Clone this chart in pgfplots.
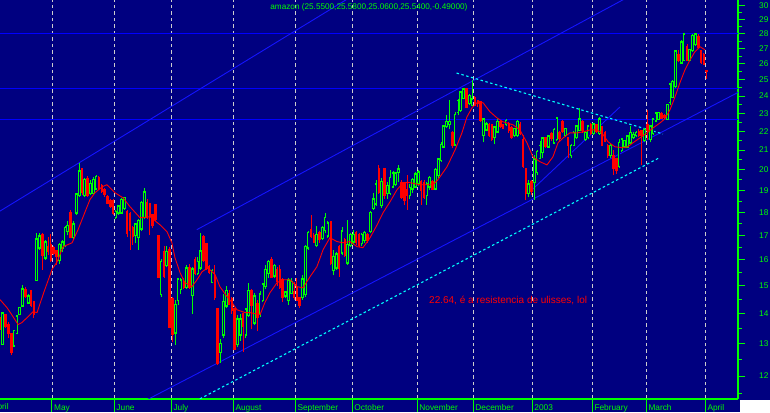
\documentclass[border=0pt]{standalone}
\usepackage{pgfplots}
\usepackage{pgfplotstable}
\pgfplotsset{compat=1.18}
\usepackage{fontspec}
\setmainfont{Liberation Sans}
\definecolor{bg}{RGB}{0,0,128}
\definecolor{hl}{RGB}{0,0,255}
\definecolor{tl}{RGB}{20,20,255}
\definecolor{cy}{RGB}{0,255,255}
\definecolor{gr}{RGB}{0,255,0}
\definecolor{rd}{RGB}{255,0,0}
\definecolor{gd}{RGB}{205,205,205}

\pgfplotstableread{
x o h l c
0 13.73 13.90 13.45 13.52
1 13.00 14.05 12.95 14.00
2 13.95 14.00 13.50 13.60
3 13.60 13.70 13.20 13.35
4 13.30 13.35 12.63 12.75
5 12.95 13.45 12.90 13.40
6 13.35 13.97 13.30 13.90
7 14.00 14.25 13.95 14.20
8 14.30 15.04 14.25 14.86
9 14.85 14.95 14.55 14.65
10 14.40 14.70 14.35 14.60
11 14.80 14.85 14.25 14.32
12 14.40 14.45 13.85 14.00
13 15.23 17.10 15.20 16.82
14 16.50 17.10 16.40 16.95
15 17.02 17.10 15.62 16.20
16 16.10 16.80 16.00 16.70
17 16.50 16.95 16.20 16.35
18 16.60 17.05 15.90 16.00
19 16.45 16.55 16.20 16.30
20 16.35 16.40 15.80 16.15
21 16.00 16.70 15.85 16.60
22 16.50 16.80 16.30 16.70
23 16.60 17.40 16.50 17.30
24 17.20 17.60 17.00 17.40
25 17.95 18.10 16.90 16.95
26 16.95 17.60 16.80 17.45
27 18.00 18.90 17.90 18.80
28 18.80 20.35 18.70 19.90
29 20.00 20.10 18.80 18.95
30 18.80 19.60 18.70 19.50
31 19.55 19.70 18.70 18.80
32 18.90 19.50 18.80 19.30
33 18.90 19.65 18.85 19.50
34 19.10 19.75 19.00 19.65
35 19.60 19.70 19.00 19.15
36 19.20 19.30 18.90 19.00
37 19.00 19.10 18.70 18.85
38 18.70 18.80 18.40 18.45
39 18.50 18.60 18.20 18.30
40 18.50 18.60 17.90 18.00
41 17.80 18.10 17.70 18.00
42 18.00 18.30 17.90 18.25
43 18.00 18.65 17.95 18.55
44 18.20 18.70 18.10 18.65
45 18.00 18.10 16.92 17.10
46 17.90 18.00 16.41 17.24
47 17.30 17.40 16.60 17.00
48 17.02 17.50 16.70 17.45
49 16.95 17.70 16.40 17.60
50 17.30 18.50 17.20 18.40
51 17.80 19.10 17.70 18.90
52 18.40 18.60 17.70 17.80
53 18.34 18.40 17.00 17.85
54 17.85 17.90 17.30 17.45
55 18.30 18.35 17.60 17.70
56 16.95 17.00 15.30 15.35
57 14.72 16.05 14.60 15.90
58 16.30 16.55 15.30 15.40
59 15.80 16.55 15.70 16.30
60 16.40 16.50 13.50 13.55
61 14.50 14.60 13.05 13.33
62 13.37 14.50 12.95 14.30
63 14.50 15.30 14.30 15.23
64 14.90 15.30 14.70 15.20
65 15.15 15.30 14.90 14.97
66 14.97 15.80 14.90 15.66
67 15.66 15.85 14.90 14.97
68 14.68 15.70 14.00 15.62
69 16.00 16.10 15.40 15.50
70 15.50 16.10 15.40 15.90
71 15.70 17.10 15.60 16.33
72 16.92 17.00 15.90 16.00
73 16.61 16.70 15.60 15.70
74 15.70 15.80 15.45 15.55
75 15.15 15.65 15.10 15.55
76 15.35 15.80 14.50 14.60
77 14.14 14.20 12.33 12.40
78 12.75 13.14 12.40 12.98
79 13.30 14.70 13.20 14.40
80 14.30 15.00 14.20 14.80
81 14.70 14.85 14.30 14.35
82 14.50 14.60 14.00 14.14
83 14.14 14.20 12.82 12.85
84 13.00 13.97 12.90 13.80
85 13.30 14.00 13.10 13.80
86 13.97 14.00 12.75 13.60
87 13.30 14.20 13.20 14.14
88 13.97 15.10 13.90 14.80
89 14.80 14.90 13.47 14.30
90 13.70 14.75 13.60 14.60
91 14.32 14.50 13.40 13.90
92 14.00 14.80 13.90 14.68
93 14.50 15.10 14.40 15.04
94 15.00 15.80 14.90 15.60
95 15.50 16.00 15.30 15.90
96 16.00 16.10 15.30 15.35
97 15.40 15.85 15.30 15.75
98 15.60 15.70 15.00 15.20
99 15.60 15.80 14.90 14.98
100 15.20 15.30 14.40 14.60
101 14.65 14.80 14.55 14.75
102 14.50 15.30 14.30 15.20
103 14.75 15.30 14.70 15.15
104 14.75 15.15 14.50 14.60
105 14.90 15.30 14.45 14.50
106 14.55 14.60 14.20 14.30
107 14.60 15.40 14.50 15.23
108 14.70 16.60 14.60 16.50
109 16.50 17.20 16.40 17.10
110 17.20 17.90 16.90 17.00
111 16.95 17.10 16.70 16.75
112 16.60 17.40 16.50 17.00
113 17.10 17.20 16.70 16.85
114 16.90 17.40 16.80 17.30
115 17.24 17.96 17.10 17.75
116 17.00 17.60 16.90 17.50
117 17.55 17.60 15.80 15.90
118 15.60 16.40 15.40 16.10
119 15.70 16.30 15.60 16.20
120 16.50 16.60 15.35 15.70
121 16.30 17.35 16.20 17.15
122 16.80 16.90 16.10 16.20
123 15.90 17.67 15.80 16.60
124 16.60 17.10 16.50 17.00
125 16.75 17.24 16.60 17.02
126 17.10 17.20 16.60 16.75
127 17.02 17.10 16.50 16.61
128 16.70 17.10 16.55 17.00
129 16.80 17.20 16.70 17.10
130 17.00 17.10 16.70 16.82
131 17.20 18.05 17.10 17.95
132 18.20 18.90 18.10 18.57
133 18.40 19.50 18.30 19.27
134 20.00 20.24 18.85 18.95
135 18.34 19.60 18.20 19.40
136 20.00 20.10 18.60 18.80
137 18.90 19.40 18.60 19.20
138 18.90 20.00 18.80 19.60
139 19.20 19.95 19.10 19.80
140 19.30 19.90 19.20 19.80
141 19.90 20.24 19.40 20.00
142 19.35 19.50 18.60 18.70
143 19.27 19.40 18.34 18.57
144 19.00 19.75 18.11 18.80
145 18.80 19.30 18.60 19.10
146 19.10 19.60 18.90 19.50
147 19.20 19.90 19.10 19.75
148 19.35 20.00 19.20 19.85
149 19.40 19.50 18.34 19.03
150 19.35 19.50 18.60 18.70
151 18.80 19.40 18.34 19.27
152 19.20 19.70 19.00 19.60
153 19.40 19.50 19.00 19.10
154 19.10 20.10 19.00 19.99
155 19.75 20.60 19.60 20.50
156 20.50 21.40 20.40 21.27
157 21.20 22.35 21.10 22.25
158 22.30 22.90 22.20 22.50
159 22.40 23.75 22.10 22.50
160 21.90 22.00 21.10 21.27
161 21.30 23.10 21.20 22.90
162 23.10 23.80 22.90 23.70
163 23.20 24.30 23.10 24.20
164 23.90 24.50 23.80 24.38
165 24.38 24.45 23.30 23.40
166 23.60 24.10 23.50 24.00
167 23.50 25.00 23.40 23.78
168 23.90 24.00 23.40 23.50
169 23.70 23.75 23.35 23.60
170 23.65 23.70 22.50 22.63
171 21.80 22.70 21.40 22.63
172 22.10 22.50 22.00 22.35
173 22.35 22.45 21.70 21.80
174 22.30 22.40 21.50 21.60
175 21.70 22.30 21.30 22.20
176 22.00 22.65 21.90 22.50
177 22.50 22.60 22.20 22.30
178 22.30 22.40 22.10 22.20
179 22.40 22.65 22.30 22.55
180 22.40 22.50 21.90 22.10
181 22.15 22.30 21.60 21.70
182 21.80 22.20 21.70 22.10
183 21.80 22.60 21.70 22.50
184 22.30 22.50 21.80 21.90
185 21.54 21.80 20.10 20.20
186 20.00 20.10 18.57 18.90
187 18.90 19.50 18.70 19.27
188 19.40 19.50 18.80 19.00
189 19.40 20.75 18.57 20.50
190 19.90 21.00 19.75 20.90
191 20.60 21.50 20.60 21.20
192 20.90 21.70 20.60 21.60
193 21.60 21.70 21.10 21.20
194 21.20 21.80 21.10 21.70
195 21.85 21.95 21.50 21.65
196 21.40 22.20 21.30 22.07
197 21.60 22.75 21.50 22.70
198 21.90 22.00 21.50 21.65
199 22.50 22.60 21.90 22.00
200 21.80 22.20 21.70 22.10
201 21.60 21.70 20.60 21.25
202 20.75 21.30 20.60 21.20
203 21.27 22.00 21.20 21.90
204 21.70 22.35 21.60 22.25
205 22.07 23.30 22.00 22.63
206 22.50 22.60 21.90 22.07
207 21.60 22.00 21.50 21.90
208 21.70 22.35 21.60 22.25
209 22.35 22.45 21.80 21.90
210 21.90 22.45 21.80 22.35
211 22.30 22.40 21.90 22.00
212 21.90 22.80 21.80 22.63
213 22.20 22.30 21.20 21.27
214 21.90 22.00 21.40 21.50
215 21.20 21.30 20.60 20.75
216 20.75 21.30 20.60 21.20
217 20.70 21.00 19.75 20.10
218 20.50 20.60 19.80 20.00
219 20.20 21.60 20.10 21.35
220 21.00 21.65 20.90 21.54
221 21.20 21.55 21.10 21.45
222 21.20 21.80 21.10 21.70
223 21.40 22.30 21.30 21.90
224 21.70 21.95 21.60 21.80
225 21.80 22.00 21.70 21.90
226 21.95 22.10 21.70 21.80
227 22.00 22.07 20.24 21.80
228 21.54 22.20 21.40 22.07
229 22.30 23.20 21.54 22.10
230 21.60 22.35 21.40 22.25
231 21.90 22.70 21.80 22.63
232 22.60 23.05 22.50 22.97
233 22.70 23.10 22.60 23.00
234 22.97 23.05 22.65 22.75
235 22.85 22.95 22.70 22.80
236 22.70 23.55 22.60 23.45
237 23.66 24.80 23.50 24.68
238 23.95 25.00 23.90 24.85
239 24.60 26.90 24.50 26.80
240 26.58 26.90 26.10 26.25
241 26.10 27.60 26.00 27.40
242 26.25 28.00 26.20 27.93
243 27.10 27.30 26.20 26.25
244 26.25 27.00 26.15 26.90
245 26.90 28.00 26.80 27.86
246 27.30 28.00 27.20 27.93
247 27.73 28.00 27.00 27.10
248 26.80 26.90 26.00 26.10
249 26.58 26.70 25.95 26.03
250 25.55 25.58 25.06 25.54
}\ohlc

\pgfplotstableread{
x ma
0.0 14.50
2.5 14.21
4.6 13.90
6.4 13.63
7.8 13.70
9.6 13.87
11.7 14.07
13.1 14.04
15.6 14.79
18.4 15.62
20.2 15.92
22.3 16.53
25.5 16.69
27.6 17.24
30.1 18.02
31.8 18.57
33.6 18.89
36.1 19.17
37.8 19.27
40.7 18.89
43.5 18.66
46.0 18.25
49.5 17.76
53.1 17.80
56.6 17.45
59.1 17.15
60.8 16.69
61.9 16.08
63.7 15.50
65.4 15.12
67.9 14.97
69.7 15.23
71.5 15.54
73.6 15.69
76.1 15.42
77.8 14.97
80.3 14.61
82.1 14.39
83.8 14.14
86.7 14.04
88.4 14.04
92.0 13.97
93.7 14.39
95.5 14.75
98.0 15.12
100.1 15.23
102.6 15.23
105.1 14.97
107.2 14.93
109.7 15.35
112.1 15.73
114.3 16.41
116.7 16.90
119.2 16.74
121.3 16.69
123.8 16.74
126.3 16.53
128.4 16.49
130.9 16.90
133.4 17.45
135.5 17.98
138.0 18.48
140.4 19.03
142.6 19.37
145.0 19.37
148.6 19.27
153.2 19.27
154.9 19.51
158.1 20.14
161.0 21.01
163.4 21.91
165.2 22.80
167.0 23.32
169.1 23.66
170.9 23.60
173.3 23.09
175.8 22.74
177.9 22.52
181.5 22.35
183.9 22.07
186.4 21.38
188.5 20.65
191.0 20.40
193.5 20.24
195.6 20.65
197.4 21.38
199.2 21.64
201.6 21.91
204.1 21.91
206.2 21.96
208.7 22.07
211.2 22.07
212.9 21.91
215.1 21.43
217.5 21.17
220.0 21.12
222.1 21.17
223.9 21.38
226.4 21.64
228.9 21.91
231.0 22.18
233.5 22.46
235.2 22.69
237.0 23.20
238.8 23.96
240.5 24.80
242.3 25.61
244.1 26.25
245.8 26.78
247.6 27.12
249.4 26.91
}\mavg

% build segment lists (separated by nan) from the OHLC table
\pgfplotstablegetrowsof{\ohlc}
\pgfmathtruncatemacro{\nlast}{\pgfplotsretval-1}
\gdef\gwick{}\gdef\gbody{}\gdef\rwick{}\gdef\rbody{}
\pgfplotsforeachungrouped \r in {0,...,\nlast}{%
  \pgfplotstablegetelem{\r}{x}\of\ohlc \let\cx\pgfplotsretval
  \pgfplotstablegetelem{\r}{o}\of\ohlc \let\co\pgfplotsretval
  \pgfplotstablegetelem{\r}{h}\of\ohlc \let\ch\pgfplotsretval
  \pgfplotstablegetelem{\r}{l}\of\ohlc \let\cl\pgfplotsretval
  \pgfplotstablegetelem{\r}{c}\of\ohlc \let\cc\pgfplotsretval
  \pgfmathtruncatemacro{\up}{\cc>=\co}%
  \ifnum\up=1
    \xdef\gwick{\gwick (\cx,\cl) (\cx,\ch) (\cx,nan)}%
    \xdef\gbody{\gbody (\cx,\co) (\cx,\cc) (\cx,nan)}%
  \else
    \xdef\rwick{\rwick (\cx,\cl) (\cx,\ch) (\cx,nan)}%
    \xdef\rbody{\rbody (\cx,\co) (\cx,\cc) (\cx,nan)}%
  \fi
}

\begin{document}
\begin{tikzpicture}[x=1pt,y=1pt]
\useasboundingbox (0,-13) rectangle (770,399);
\fill[bg] (0,-13) rectangle (770,399);
\fill[white] (739.5,-13) rectangle (770,-1);
\begin{axis}[
  name=ax,
  at={(0,0)}, anchor=south west,
  scale only axis, width=738pt, height=399pt,
  xmin=0, xmax=261.06,
  ymode=log, ymin=11.336, ymax=30.449,
  axis x line*=bottom, axis y line*=right,
  axis line style={gr, line width=1.6pt},
  tick align=outside,
  major tick length=7pt, minor tick length=3.5pt,
  every tick/.style={gr, line width=1pt},
  xtick=\empty,
  extra x ticks={18.39,40.43,60.6,82.53,104.46,124.62,147.61,167.42,188.29,209.52,228.62,249.49},
  extra x tick labels={May,June,July,August,September,October,November,December,2003,February,March,April},
  extra x tick style={major tick length=13pt},
  minor xtick={1.5,6.5,...,261.5},
  ytick={12,13,14,15,16,17,18,19,20,21,22,23,24,25,26,27,28,29,30},
  yticklabels={12,13,14,15,16,17,18,19,20,21,22,23,24,25,26,27,28,29,30},
  minor ytick={11.5,12.5,13.5,14.5,15.5,16.5,17.5,18.5,19.5,20.5,21.5,22.5,23.5,24.5,25.5,26.5,27.5,28.5,29.5,30.5},
  xticklabel style={anchor=north west, inner sep=0pt, xshift=2pt, yshift=7.5pt, text=gr, font=\fontsize{8.3}{9}\selectfont},
  yticklabel style={anchor=west, inner sep=0pt, xshift=14pt, text=gr, font=\fontsize{8.3}{9}\selectfont},
  unbounded coords=jump,
]
% month separators
\pgfplotsinvokeforeach{18.39,40.43,60.6,82.53,104.46,124.62,147.61,167.42,188.29,209.52,228.62,249.49}{
  \addplot[gd, line width=0.9pt, dash pattern=on 3.5pt off 3pt] coordinates {(#1,11) (#1,31)};
}
% horizontal levels
\addplot[hl, line width=1.3pt] coordinates {(-1,28) (262,28)};
\addplot[hl, line width=1.3pt] coordinates {(-1,24.47) (262,24.47)};
\addplot[hl, line width=1.3pt] coordinates {(-1,22.64) (262,22.64)};
% channel lines
\addplot[tl, line width=0.9pt] coordinates {(-2,17.90) (125,30.80)};
\addplot[tl, line width=0.9pt] coordinates {(69.6,17.24) (225,31.0)};
\addplot[tl, line width=0.9pt] coordinates {(51.9,11.31) (262,24.30)};
\addplot[tl, line width=0.9pt] coordinates {(188.5,19.07) (219.3,23.36)};
% cyan dashed lines
\addplot[cy, line width=1.1pt, dash pattern=on 2.5pt off 2.5pt] coordinates {(161.5,25.41) (234.5,21.85)};
\addplot[cy, line width=1.1pt, dash pattern=on 2.5pt off 2.5pt] coordinates {(70.7,11.34) (233.1,20.59)};
% candles
\edef\tmp{\noexpand\addplot[gr, line width=0.9pt] coordinates {\gwick};}\tmp
\edef\tmp{\noexpand\addplot[gr, line width=2.7pt, line cap=rect] coordinates {\gbody};}\tmp
\edef\tmp{\noexpand\addplot[bg, line width=1.0pt] coordinates {\gbody};}\tmp
\edef\tmp{\noexpand\addplot[rd, line width=0.9pt] coordinates {\rwick};}\tmp
\edef\tmp{\noexpand\addplot[rd, line width=2.5pt, line cap=rect] coordinates {\rbody};}\tmp
% moving average
\addplot[rd, line width=0.9pt] table[x=x, y=ma] {\mavg};
% texts
\node[text=gr, font=\fontsize{8.2}{9}\selectfont, inner sep=0pt] at (axis cs:130.5,29.93) {amazon (25.5500,25.5800,25.0600,25.5400,-0.49000)};
\node[text=rd, font=\fontsize{10}{11}\selectfont, inner sep=0pt, anchor=west] at (axis cs:151.75,14.47) {22.64, é a resistencia de ulisses, lol};
\end{axis}
\node[anchor=north west, inner sep=0pt, text=gr, font=\fontsize{8.3}{9}\selectfont] at (-8.2,-4) {April};
\end{tikzpicture}
\end{document}
